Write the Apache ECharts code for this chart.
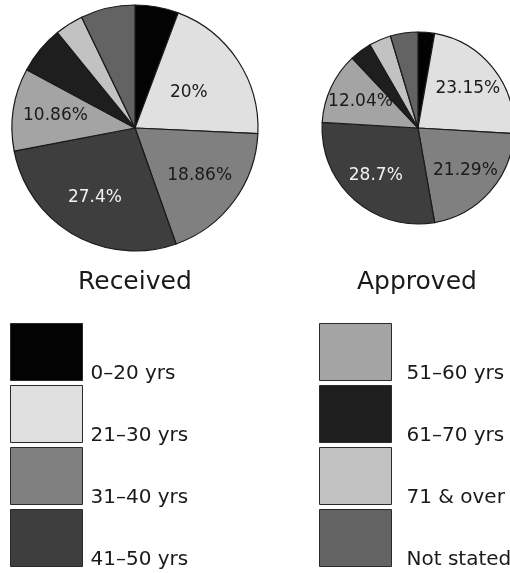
<!DOCTYPE html>
<html>
<head>
<meta charset="utf-8">
<script src="https://cdn.jsdelivr.net/npm/echarts@6/dist/echarts.min.js"></script>
<style>
  html, body { margin: 0; padding: 0; background: #fff; }
  #chart { width: 510px; height: 573px; }
</style>
</head>
<body>
<div id="chart"></div>
<script>
// Age groups, in clockwise order from 12 o'clock
const ageGroups = ['0–20 yrs', '21–30 yrs', '31–40 yrs', '41–50 yrs',
                   '51–60 yrs', '61–70 yrs', '71 & over', 'Not stated'];
// Share of applications (%) per age group
const receivedPct = [5.71, 20, 18.86, 27.4, 10.86, 6.29, 3.71, 7.14];
const approvedPct = [2.78, 23.15, 21.29, 28.7, 12.04, 3.70, 3.70, 4.63];
// Slices that carry a percentage label
const labelled = ['21–30 yrs', '31–40 yrs', '41–50 yrs', '51–60 yrs'];
const pieTitles = ['Received', 'Approved'];

const greys = ['#030303', '#e0e0e0', '#808080', '#3e3e3e',
               '#a4a4a4', '#1e1e1e', '#c2c2c2', '#636363'];
const FONT = 'DejaVu Sans';

function labelStyle(name) {
  return {
    fontFamily: FONT,
    fontSize: 17,
    color: name === '41–50 yrs' ? '#f2f2f2' : '#1a1a1a',
    formatter: p => p.value + '%'
  };
}

// nearCenter: labels drawn half-way out; the rest sit further out on a ring
function pieSeries(values, center, r, nearCenter) {
  const inner = ageGroups.map((name, i) => ({
    name, value: values[i],
    label: Object.assign({ show: nearCenter.includes(name) }, labelStyle(name))
  }));
  const outer = ageGroups.map((name, i) => ({
    name, value: values[i],
    label: Object.assign({ show: labelled.includes(name) && !nearCenter.includes(name) },
                         labelStyle(name))
  }));
  return [
    {
      type: 'pie',
      center: center,
      radius: [0, r],
      startAngle: 90,
      clockwise: true,
      silent: true,
      animation: false,
      itemStyle: { borderColor: '#1a1a1a', borderWidth: 1.2 },
      label: { position: 'inside' },
      labelLine: { show: false },
      data: inner
    },
    {
      type: 'pie',
      center: center,
      radius: [r * 0.26, r],
      startAngle: 90,
      clockwise: true,
      silent: true,
      animation: false,
      legendHoverLink: false,
      itemStyle: { color: 'rgba(0,0,0,0)', borderWidth: 0 },
      label: { position: 'inside' },
      labelLine: { show: false },
      data: outer
    }
  ];
}

function legendFor(names, left, gapLeft) {
  return {
    orient: 'vertical', left: left, top: 318, height: 255, padding: 0,
    itemWidth: 72, itemHeight: 57, itemGap: -4,
    icon: 'rect', selectedMode: false,
    data: names,
    itemStyle: { borderColor: '#2a2a2a', borderWidth: 1 },
    // empty first line pushes the name down towards the swatch's lower edge
    formatter: name => '{gap|}\n{t|' + name + '}',
    textStyle: {
      rich: {
        gap: { height: 44, lineHeight: 44, fontSize: 1 },
        t: { fontFamily: FONT, fontSize: 20, lineHeight: 24, color: '#1a1a1a', padding: [0, 0, 0, gapLeft] }
      }
    }
  };
}

const chart = echarts.init(document.getElementById('chart'));
chart.setOption({
  backgroundColor: '#fff',
  color: greys,
  animation: false,
  title: [
    { text: pieTitles[0], left: 78, top: 270, padding: 0,
      textStyle: { fontFamily: FONT, fontSize: 25, fontWeight: 'normal', color: '#1a1a1a' } },
    { text: pieTitles[1], left: 357, top: 270, padding: 0,
      textStyle: { fontFamily: FONT, fontSize: 25, fontWeight: 'normal', color: '#1a1a1a' } }
  ],
  legend: [
    legendFor(ageGroups.slice(0, 4), 10, 3),
    legendFor(ageGroups.slice(4), 319, 10)
  ],
  series: [
    ...pieSeries(receivedPct, [135, 128], 123, ['21–30 yrs']),
    ...pieSeries(approvedPct, [418, 128], 96, [])
  ]
});
</script>
</body>
</html>
